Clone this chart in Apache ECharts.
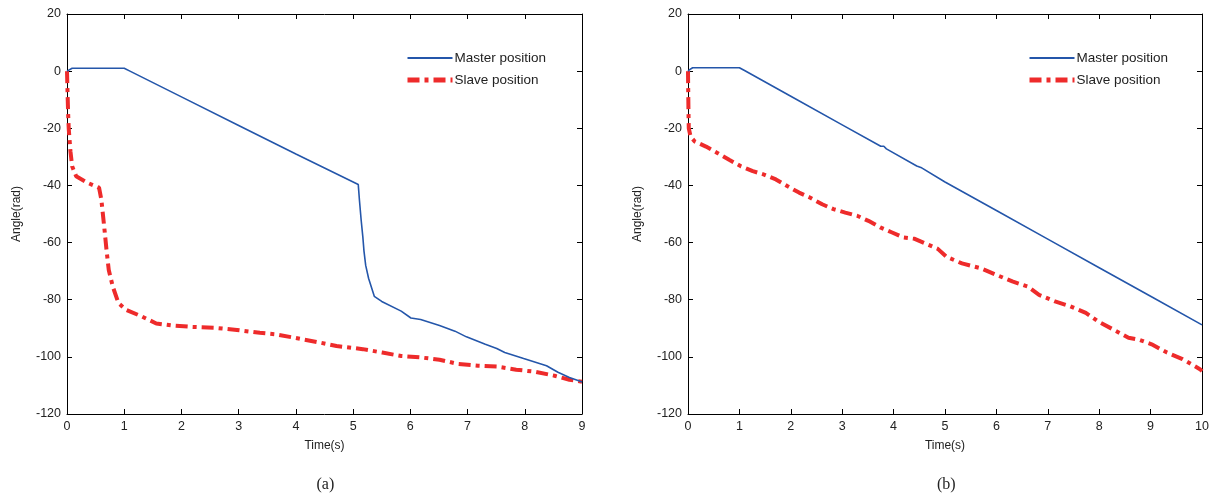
<!DOCTYPE html>
<html>
<head>
<meta charset="utf-8">
<script src="https://cdn.jsdelivr.net/npm/echarts@6/dist/echarts.min.js"></script>
<style>html,body{margin:0;padding:0;background:#fff}#c{width:1215px;height:500px}</style>
</head>
<body>
<div id="c"></div>
<script>
// ---- Data (time in s, angle in rad) ----
var seriesNames = ['Master position', 'Slave position'];
var yTicks = [-120, -100, -80, -60, -40, -20, 0, 20];
var captions = ['(a)', '(b)'];

var masterA = [[0,0],[0.03,0.6],[0.09,1],[1.0,1],[1.1,0],[2,-9],[3,-19],[4,-29],[5.09,-39.7],[5.11,-45],[5.14,-52],[5.17,-58],[5.19,-63],[5.22,-68],[5.27,-72.5],[5.37,-78.8],[5.5,-80.6],[5.84,-84],[6.01,-86.4],[6.18,-86.9],[6.51,-89],[6.78,-91],[6.98,-93],[7.31,-95.6],[7.51,-97.1],[7.65,-98.5],[7.98,-100.6],[8.38,-103.1],[8.58,-105.4],[8.78,-107.2],[8.98,-108.6],[9,-108.8]];
var slaveA = [[0,0],[0.01,-8],[0.02,-15],[0.03,-20],[0.06,-28],[0.09,-33.3],[0.16,-36.8],[0.36,-39.1],[0.56,-40.8],[0.6,-44.9],[0.63,-50.6],[0.66,-56.4],[0.69,-62.5],[0.73,-69.6],[0.8,-75.4],[0.9,-81.2],[1.03,-83.5],[1.3,-85.8],[1.56,-88.3],[1.83,-89],[2.17,-89.5],[2.57,-89.8],[2.97,-90.6],[3.37,-91.6],[3.64,-92.1],[3.97,-93.3],[4.37,-94.8],[4.71,-96.2],[5.17,-97.3],[5.51,-98.5],[5.84,-99.7],[6.18,-100.2],[6.51,-101],[6.84,-102.5],[7.18,-103.1],[7.51,-103.4],[7.85,-104.5],[8.18,-105.2],[8.52,-106.6],[8.78,-108],[9,-108.7]];
var masterB = [[0,0],[0.04,0.6],[0.09,1.2],[1.0,1.2],[1.1,0.2],[2,-8.8],[3,-18.8],[3.75,-26.3],[3.78,-26.0],[3.81,-26.3],[3.86,-27.2],[4.45,-33.2],[4.48,-32.5],[4.53,-33.7],[5,-38.8],[6,-48.8],[7,-58.8],[8,-68.8],[9,-78.8],[10,-88.8]];
var slaveB = [[0,0],[0.005,-8],[0.01,-15],[0.015,-20],[0.05,-22.9],[0.13,-24.6],[0.35,-26.4],[0.58,-28.7],[0.8,-31],[1.03,-33.3],[1.26,-35],[1.48,-36.2],[1.71,-37.9],[1.93,-40.2],[2.16,-42.5],[2.38,-44.3],[2.61,-46.6],[2.83,-48.3],[3.06,-49.5],[3.29,-50.6],[3.51,-52.4],[3.74,-54.7],[3.96,-56.4],[4.19,-58.2],[4.41,-58.7],[4.64,-60.5],[4.86,-62.2],[5.03,-65],[5.33,-67.3],[5.7,-69],[6.0,-71.3],[6.31,-73.6],[6.61,-75.4],[6.83,-78.3],[7.14,-80.6],[7.44,-82.3],[7.74,-84.6],[7.97,-87.5],[8.27,-90.4],[8.57,-93.3],[8.79,-94.1],[9.02,-95.6],[9.32,-98.5],[9.62,-100.8],[9.96,-104.3],[10,-105]];

var xMax = [9, 10];
var grids = [
  {left: 67, top: 14, width: 515, height: 400},
  {left: 688, top: 14, width: 514, height: 400}
];

var FONT = 'Liberation Sans, Arial, sans-serif';
var blue = '#2456aa', red = '#ee2b2b';
var slaveDash = [12,5,4,5];

var xAxes = [], yAxes = [], series = [];
grids.forEach(function(g, i){
  xAxes.push({type:'value', gridIndex:i, min:0, max:xMax[i], interval:1, position:'bottom',
    name:'Time(s)', nameLocation:'middle', nameGap:26,
    nameTextStyle:{fontFamily:FONT, fontSize:12, color:'#222'},
    axisLine:{show:true, onZero:false, lineStyle:{color:'#000', width:1}},
    axisTick:{show:true, inside:true, length:5, lineStyle:{color:'#000'}},
    axisLabel:{fontFamily:FONT, fontSize:12.5, color:'#222', margin:6},
    splitLine:{show:false}});
  xAxes.push({type:'value', gridIndex:i, min:0, max:xMax[i], interval:1, position:'top',
    axisLine:{show:true, onZero:false, lineStyle:{color:'#000', width:1}},
    axisTick:{show:true, inside:true, length:5, lineStyle:{color:'#000'}},
    axisLabel:{show:false}, splitLine:{show:false}});
  yAxes.push({type:'value', gridIndex:i, min:yTicks[0], max:yTicks[yTicks.length-1], interval:20, position:'left',
    name:'Angle(rad)', nameLocation:'middle', nameGap:44,
    nameTextStyle:{fontFamily:FONT, fontSize:12, color:'#222'},
    axisLine:{show:true, onZero:false, lineStyle:{color:'#000', width:1}},
    axisTick:{show:true, inside:true, length:5, lineStyle:{color:'#000'}},
    axisLabel:{fontFamily:FONT, fontSize:12.5, color:'#222', margin:6},
    splitLine:{show:false}});
  yAxes.push({type:'value', gridIndex:i, min:yTicks[0], max:yTicks[yTicks.length-1], interval:20, position:'right',
    axisLine:{show:true, onZero:false, lineStyle:{color:'#000', width:1}},
    axisTick:{show:true, inside:true, length:5, lineStyle:{color:'#000'}},
    axisLabel:{show:false}, splitLine:{show:false}});
});

var mData = [masterA, masterB], sData = [slaveA, slaveB];
grids.forEach(function(g, i){
  series.push({name:seriesNames[0], type:'line', xAxisIndex:2*i, yAxisIndex:2*i, data:mData[i],
    symbol:'none', silent:true, animation:false,
    lineStyle:{color:blue, width:1.6}, itemStyle:{color:blue}});
  series.push({name:seriesNames[1], type:'line', xAxisIndex:2*i, yAxisIndex:2*i, data:sData[i],
    symbol:'none', silent:true, animation:false, z:1,
    lineStyle:{color:red, width:4, type:slaveDash}, itemStyle:{color:red}});
});

var legends = [400, 1022].map(function(l){
  return {left:l, top:46, orient:'vertical', itemWidth:45, itemHeight:14, itemGap:8,
    data:[{name:seriesNames[0], lineStyle:{width:2}},
          {name:seriesNames[1], lineStyle:{width:5, type:slaveDash}}],
    selectedMode:false,
    itemStyle:{opacity:0},
    textStyle:{fontFamily:FONT, fontSize:13.5, color:'#222', padding:[0,0,0,-3]}};
});

var graphics = grids.map(function(g, i){
  return {type:'text', left: g.left + g.width/2 - 8, top: 477,
    style:{text:captions[i], font:'16px "Liberation Serif", "Times New Roman", serif', fill:'#222'}};
});

var chart = echarts.init(document.getElementById('c'), null, {renderer:'canvas'});
chart.setOption({
  animation:false,
  backgroundColor:'#fff',
  grid:grids,
  xAxis:xAxes,
  yAxis:yAxes,
  legend:legends,
  series:series,
  graphic:graphics
});
</script>
</body>
</html>
